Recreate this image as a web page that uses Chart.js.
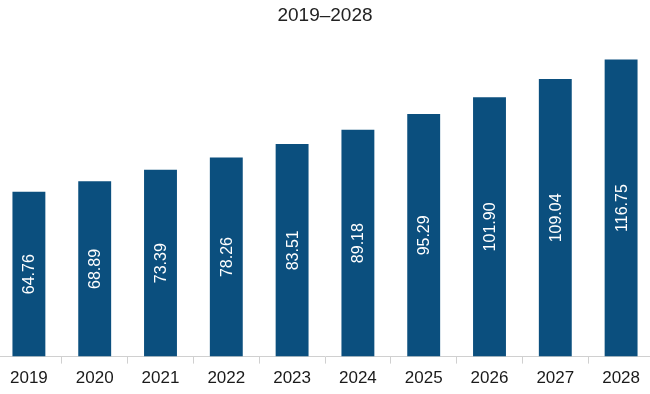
<!DOCTYPE html>
<html>
<head>
<meta charset="utf-8">
<script src="https://cdn.jsdelivr.net/npm/chart.js@4"></script>
<style>
html, body { margin: 0; padding: 0; background: #fff; overflow: hidden; }
#wrap { width: 658px; height: 394px; position: relative; margin-left: -4px; }
</style>
</head>
<body>
<div id="wrap"><canvas id="chart"></canvas></div>
<script>
const years = ['2019', '2020', '2021', '2022', '2023', '2024', '2025', '2026', '2027', '2028'];
const values = [64.76, 68.89, 73.39, 78.26, 83.51, 89.18, 95.29, 101.90, 109.04, 116.75];
const barColor = '#0b4f7e';

const insideLabels = {
  id: 'insideLabels',
  afterDatasetsDraw(chart) {
    const ctx = chart.ctx;
    const meta = chart.getDatasetMeta(0);
    ctx.save();
    ctx.fillStyle = '#ffffff';
    ctx.font = '16px "Liberation Sans", Arial, sans-serif';
    ctx.textAlign = 'center';
    ctx.textBaseline = 'middle';
    meta.data.forEach((bar, i) => {
      const cy = (bar.y + bar.base) / 2;
      ctx.save();
      ctx.translate(bar.x + 1, cy);
      ctx.rotate(-Math.PI / 2);
      ctx.fillText(values[i].toFixed(2), 0, 0);
      ctx.restore();
    });
    ctx.restore();
  }
};

new Chart(document.getElementById('chart').getContext('2d'), {
  type: 'bar',
  data: {
    labels: years,
    datasets: [{
      data: values,
      backgroundColor: barColor,
      barPercentage: 0.5,
      categoryPercentage: 1.0
    }]
  },
  options: {
    responsive: true,
    maintainAspectRatio: false,
    animation: false,
    layout: { padding: { left: 0, right: 0, top: 0, bottom: 0 } },
    plugins: {
      legend: { display: false },
      tooltip: { enabled: false },
      title: {
        display: true,
        text: '2019–2028',
        color: '#222',
        font: { size: 19, family: '"Liberation Sans", Arial, sans-serif', weight: 'normal' },
        padding: { top: 4, bottom: 0 }
      }
    },
    scales: {
      x: {
        offset: true,
        grid: { display: true, drawOnChartArea: false, tickLength: 7, color: '#d0d0d0', offset: true },
        border: { display: true, color: '#d0d0d0' },
        ticks: {
          color: '#1a1a1a',
          font: { size: 17, family: '"Liberation Sans", Arial, sans-serif' },
          padding: 5
        }
      },
      y: {
        display: false,
        min: 0,
        max: 129.6
      }
    }
  },
  plugins: [insideLabels]
});
</script>
</body>
</html>
